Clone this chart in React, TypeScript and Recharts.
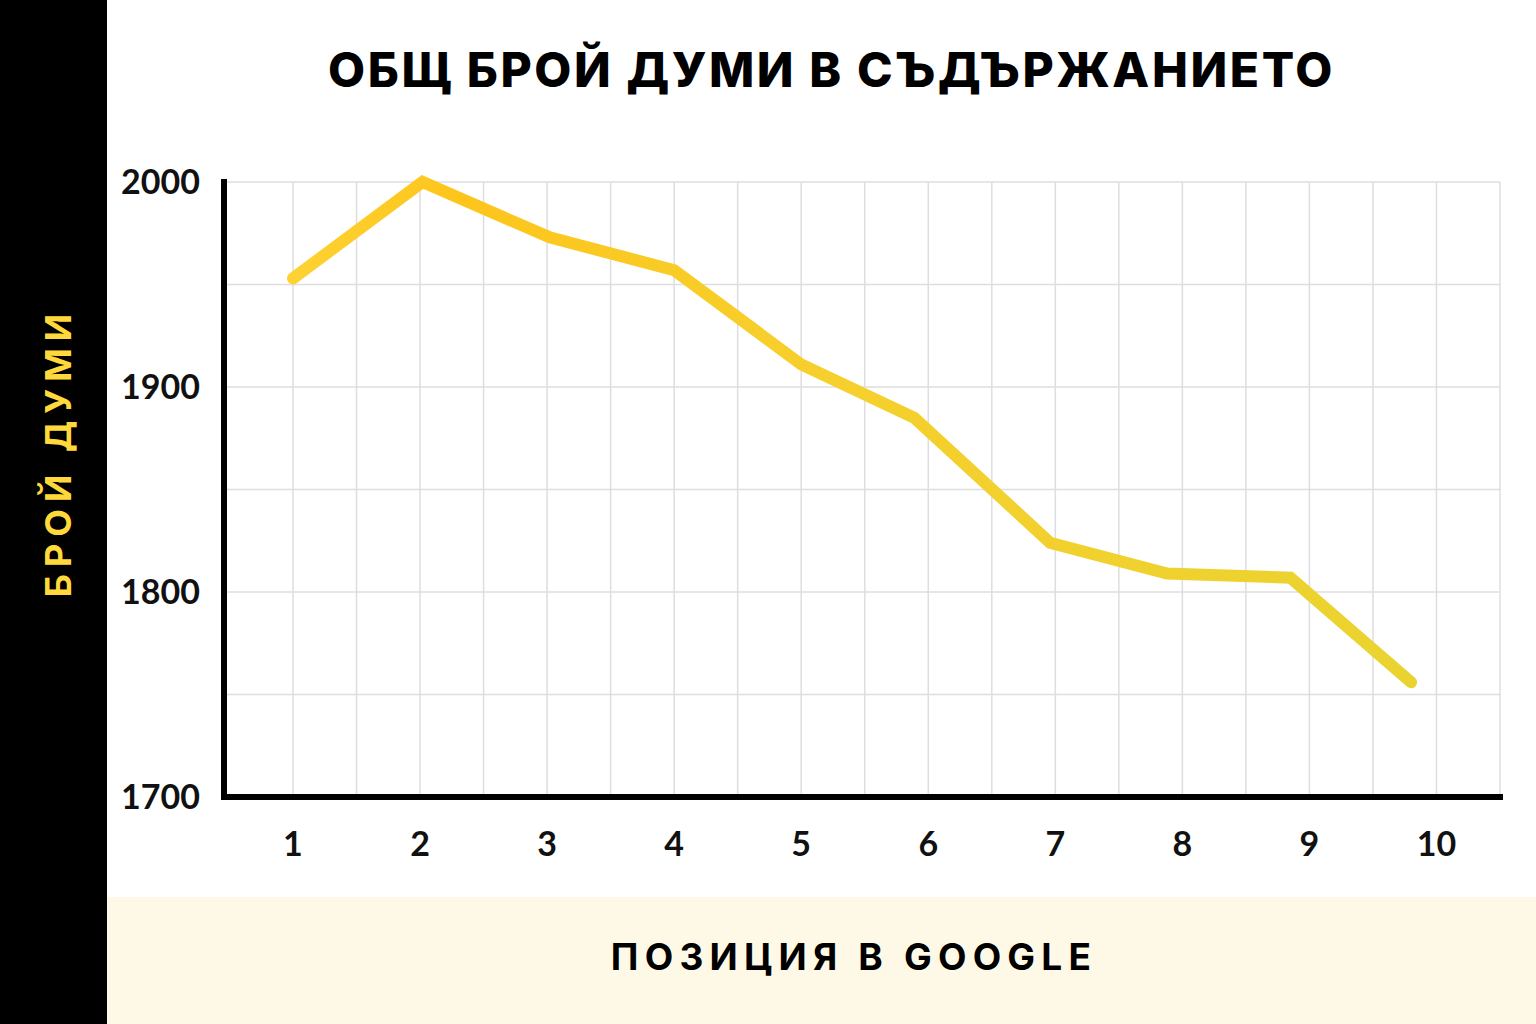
import { LineChart, Line, XAxis, YAxis, CartesianGrid } from 'recharts';

// Google position (1..10) and average word count
const positions = [1, 2, 3, 4, 5, 6, 7, 8, 9, 10];
// where each point sits on the x scale in the reference (drifts a bit left of the ticks)
const pointX = [1, 2.02, 3.02, 4, 5, 5.89, 6.96, 7.88, 8.85, 9.8];
const wordCounts = [1953, 2000, 1973, 1957, 1911, 1885, 1824, 1809, 1807, 1756];

const yTicks = [1700, 1750, 1800, 1850, 1900, 1950, 2000];
const xTicks = [1, 1.5, 2, 2.5, 3, 3.5, 4, 4.5, 5, 5.5, 6, 6.5, 7, 7.5, 8, 8.5, 9, 9.5, 10, 10.5];

const title = 'ОБЩ БРОЙ ДУМИ В СЪДЪРЖАНИЕТО';
const yTitle = 'БРОЙ ДУМИ';
const xTitle = 'ПОЗИЦИЯ В GOOGLE';

const data = positions.map((p, i) => ({ pos: p, x: pointX[i], words: wordCounts[i] }));

const tickFont = { fill: '#111', fontSize: 34, fontWeight: 700, fontFamily: 'Lato, sans-serif' };

export default function App() {
  return (
    <div
      style={{
        position: 'absolute',
        left: 0,
        top: 0,
        width: 1536,
        height: 1024,
        background: '#fff',
        overflow: 'hidden',
        fontFamily: 'Inter, sans-serif',
      }}
    >
      {/* black strip on the left */}
      <div style={{ position: 'absolute', left: 0, top: 0, width: 107, height: 1024, background: '#000' }} />
      {/* cream footer band */}
      <div style={{ position: 'absolute', left: 107, top: 897, width: 1429, height: 127, background: '#fef9e6' }} />

      <div
        style={{
          position: 'absolute',
          left: 117,
          top: 46,
          width: 1429,
          height: 48,
          lineHeight: '48px',
          textAlign: 'center',
          fontSize: 48,
          fontWeight: 800,
          letterSpacing: 2.6,
          color: '#000',
        }}
      >
        {title}
      </div>

      <div
        style={{
          position: 'absolute',
          left: 58 - 200,
          top: 452 - 20,
          width: 400,
          height: 40,
          lineHeight: '40px',
          textAlign: 'center',
          fontSize: 36,
          fontWeight: 700,
          letterSpacing: 7,
          color: '#ffd93b',
          transform: 'rotate(-90deg)',
        }}
      >
        {yTitle}
      </div>

      <div
        style={{
          position: 'absolute',
          left: 354,
          top: 938,
          width: 1000,
          height: 38,
          lineHeight: '38px',
          textAlign: 'center',
          fontSize: 37,
          fontWeight: 700,
          letterSpacing: 6.2,
          color: '#000',
        }}
      >
        {xTitle}
      </div>

      <div style={{ position: 'absolute', left: 0, top: 0 }}>
        <LineChart width={1536} height={1024} data={data} margin={{ top: 182, right: 36, bottom: 0, left: 0 }}>
          <defs>
            <linearGradient id="goldLine" x1="0" y1="0" x2="1" y2="0">
              <stop offset="0%" stopColor="#fdd232" />
              <stop offset="15%" stopColor="#fdc51c" />
              <stop offset="45%" stopColor="#f7cf2c" />
              <stop offset="100%" stopColor="#ead330" />
            </linearGradient>
          </defs>
          <CartesianGrid stroke="#dedede" strokeWidth={1.5} />
          <XAxis
            dataKey="x"
            type="number"
            domain={[0.457, 10.5]}
            ticks={xTicks}
            interval={0}
            height={227}
            tickFormatter={(v: number) => (Number.isInteger(v) ? String(v) : '')}
            axisLine={{ stroke: '#000', strokeWidth: 6, strokeLinecap: 'square' }}
            tickLine={false}
            tickSize={6}
            tickMargin={29}
            tick={tickFont}
          />
          <YAxis
            type="number"
            domain={[1700, 2000]}
            ticks={yTicks}
            interval={0}
            width={224}
            tickFormatter={(v: number) => (v % 100 === 0 ? String(v) : '')}
            axisLine={{ stroke: '#000', strokeWidth: 6, strokeLinecap: 'square' }}
            tickLine={false}
            tickSize={6}
            tickMargin={18}
            tick={tickFont}
          />
          <Line
            type="linear"
            dataKey="words"
            stroke="url(#goldLine)"
            strokeWidth={12}
            strokeLinecap="round"
            dot={false}
            activeDot={false}
            isAnimationActive={false}
          />
        </LineChart>
      </div>
    </div>
  );
}
